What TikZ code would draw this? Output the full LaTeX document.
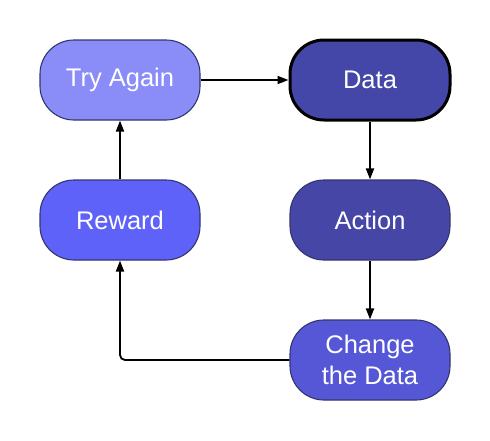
\documentclass[tikz,border=0pt]{standalone}
\usepackage{fontspec}
\setmainfont{Liberation Sans}
\usetikzlibrary{arrows.meta}
\definecolor{cTry}{HTML}{8A8CF8}
\definecolor{cData}{HTML}{4446A8}
\definecolor{cRew}{HTML}{5F62F8}
\definecolor{cAct}{HTML}{4546A6}
\definecolor{cChg}{HTML}{5657D6}
\definecolor{cBord}{HTML}{34356E}
\begin{document}
\begin{tikzpicture}[x=1pt,y=-1pt,
  box/.style={draw=cBord, line width=1.1pt, rounded corners=34pt, minimum width=160pt, minimum height=80pt,
    inner sep=0pt, text=white, font=\fontsize{25.5}{31}\selectfont, align=center},
  conn/.style={line width=1.8pt, -{Triangle[length=11pt,width=8pt]}}]
\useasboundingbox (0,0) rectangle (490,440);
\node[box, fill=cTry] (try) at (120,80) {Try Again};
\node[box, fill=cData, draw=black, line width=3pt] (data) at (370,80) {Data};
\node[box, fill=cRew] (rew) at (120,220) {Reward};
\node[box, fill=cAct] (act) at (370,220) {Action};
\node[box, fill=cChg] (chg) at (370,360) {Change\\the Data};
\draw[conn] (try.east) -- (data.west);
\draw[conn] (data.south) -- (act.north);
\draw[conn] (act.south) -- (chg.north);
\draw[conn, rounded corners=5pt] (chg.west) -| (rew.south);
\draw[conn] (rew.north) -- (try.south);
\end{tikzpicture}
\end{document}
